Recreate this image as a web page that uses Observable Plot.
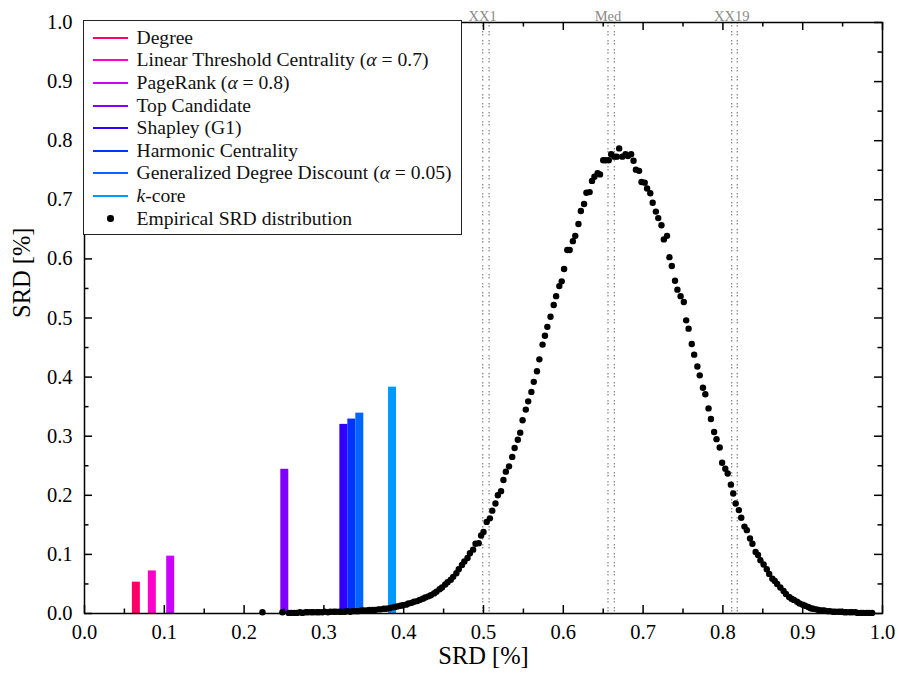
<!DOCTYPE html>
<html>
<head>
<meta charset="utf-8">
<script src="https://cdn.jsdelivr.net/npm/d3@7"></script>
<script src="https://cdn.jsdelivr.net/npm/@observablehq/plot@0.6"></script>
<style>
  html, body { margin: 0; padding: 0; background: #fff; }
  #wrap { position: relative; width: 899px; height: 683px; }
  #chart svg { font-family: 'Liberation Serif', 'Times New Roman', serif; }
  #legend { position: absolute; left: 83px; top: 20px; width: 379px; height: 215px; border: 1.5px solid #222; background: #fff; box-sizing: border-box; font-family: 'Liberation Serif', 'Times New Roman', serif; font-size: 19.6px; color: #111; }
  #legend .row { position: absolute; left: 0; height: 22px; line-height: 22px; white-space: nowrap; }
</style>
</head>
<body>
<div id="wrap">
  <div id="chart"></div>
  <div id="legend"></div>
</div>
<script>
// ---- data ----
const methods = ["Degree", "Linear Threshold Centrality (α = 0.7)", "PageRank (α = 0.8)", "Top Candidate", "Shapley (G1)", "Harmonic Centrality", "Generalized Degree Discount (α = 0.05)", "k-core"];
const methodX = [0.065, 0.085, 0.108, 0.251, 0.325, 0.335, 0.345, 0.386];
const methodSRD = [0.053, 0.072, 0.097, 0.244, 0.320, 0.329, 0.339, 0.383];
const methodColors = ["#ff0066", "#ff00cc", "#cc00ff", "#7f00ff", "#3300ff", "#0033ff", "#0066ff", "#0099ff"];
const empiricalLabel = "Empirical SRD distribution";

const refLabels = ["XX1", "Med", "XX19"];
const refLines = [[0.499, 0.507], [0.656, 0.664], [0.811, 0.818]];

const xMajor = [0.0, 0.1, 0.2, 0.3, 0.4, 0.5, 0.6, 0.7, 0.8, 0.9, 1.0];
const xMinor = [0.05, 0.15, 0.25, 0.35, 0.45, 0.55, 0.65, 0.75, 0.85, 0.95];
const yMajor = [0.0, 0.1, 0.2, 0.3, 0.4, 0.5, 0.6, 0.7, 0.8, 0.9, 1.0];
const yMinor = [0.05, 0.15, 0.25, 0.35, 0.45, 0.55, 0.65, 0.75, 0.85, 0.95];

const srdPoints = [
  [0.223,0.002],[0.248,0.002],[0.256,0.001],[0.259,0.001],[0.263,0.001],[0.266,0.001],[0.270,0.002],[0.273,0.001],
  [0.277,0.002],[0.280,0.002],[0.284,0.002],[0.287,0.002],[0.291,0.002],[0.294,0.002],[0.298,0.002],[0.301,0.003],
  [0.305,0.002],[0.308,0.003],[0.312,0.003],[0.315,0.003],[0.319,0.003],[0.322,0.003],[0.326,0.003],[0.329,0.004],
  [0.333,0.003],[0.336,0.004],[0.340,0.004],[0.343,0.004],[0.347,0.005],[0.350,0.005],[0.354,0.005],[0.357,0.006],
  [0.361,0.006],[0.364,0.006],[0.368,0.007],[0.371,0.007],[0.375,0.008],[0.378,0.008],[0.382,0.009],[0.385,0.010],
  [0.389,0.011],[0.392,0.012],[0.396,0.013],[0.399,0.014],[0.403,0.015],[0.406,0.017],[0.410,0.018],[0.413,0.020],
  [0.417,0.021],[0.420,0.023],[0.424,0.025],[0.427,0.027],[0.431,0.029],[0.434,0.031],[0.438,0.034],[0.441,0.037],
  [0.445,0.041],[0.448,0.044],[0.452,0.049],[0.455,0.053],[0.459,0.057],[0.462,0.062],[0.466,0.068],[0.469,0.075],
  [0.473,0.082],[0.476,0.088],[0.480,0.094],[0.483,0.102],[0.487,0.108],[0.490,0.118],[0.494,0.119],[0.497,0.132],
  [0.500,0.138],[0.504,0.155],[0.508,0.161],[0.511,0.174],[0.515,0.186],[0.518,0.200],[0.522,0.207],[0.525,0.226],
  [0.528,0.240],[0.532,0.249],[0.536,0.265],[0.539,0.280],[0.543,0.294],[0.546,0.306],[0.549,0.327],[0.553,0.345],
  [0.556,0.359],[0.560,0.375],[0.563,0.392],[0.567,0.410],[0.570,0.430],[0.574,0.455],[0.577,0.470],[0.580,0.485],
  [0.584,0.502],[0.588,0.522],[0.591,0.537],[0.595,0.554],[0.598,0.562],[0.601,0.583],[0.605,0.615],[0.608,0.615],
  [0.612,0.630],[0.615,0.639],[0.619,0.659],[0.622,0.681],[0.626,0.693],[0.629,0.712],[0.633,0.713],[0.636,0.732],
  [0.639,0.739],[0.643,0.745],[0.646,0.743],[0.650,0.767],[0.653,0.767],[0.657,0.767],[0.660,0.777],[0.664,0.773],
  [0.667,0.773],[0.670,0.787],[0.674,0.773],[0.678,0.777],[0.681,0.774],[0.685,0.777],[0.688,0.766],[0.691,0.751],
  [0.695,0.749],[0.698,0.730],[0.702,0.729],[0.705,0.719],[0.709,0.711],[0.712,0.695],[0.716,0.680],[0.719,0.669],
  [0.723,0.657],[0.726,0.633],[0.730,0.639],[0.733,0.603],[0.736,0.588],[0.740,0.563],[0.743,0.548],[0.747,0.537],
  [0.751,0.527],[0.754,0.496],[0.757,0.482],[0.761,0.456],[0.764,0.438],[0.768,0.418],[0.771,0.403],[0.775,0.382],
  [0.778,0.371],[0.782,0.347],[0.785,0.329],[0.789,0.307],[0.792,0.295],[0.796,0.281],[0.799,0.255],[0.803,0.245],
  [0.806,0.237],[0.810,0.218],[0.813,0.203],[0.816,0.186],[0.820,0.175],[0.823,0.162],[0.827,0.147],[0.830,0.141],
  [0.834,0.127],[0.837,0.118],[0.841,0.104],[0.844,0.099],[0.847,0.090],[0.851,0.083],[0.855,0.075],[0.858,0.067],
  [0.862,0.059],[0.865,0.055],[0.868,0.050],[0.872,0.044],[0.876,0.038],[0.879,0.033],[0.883,0.028],[0.886,0.025],
  [0.889,0.023],[0.893,0.020],[0.896,0.017],[0.900,0.015],[0.903,0.013],[0.907,0.011],[0.910,0.009],[0.913,0.008],
  [0.917,0.007],[0.920,0.006],[0.924,0.005],[0.927,0.005],[0.931,0.004],[0.934,0.004],[0.938,0.003],[0.941,0.003],
  [0.945,0.003],[0.948,0.003],[0.952,0.002],[0.955,0.002],[0.959,0.002],[0.962,0.002],[0.966,0.002],[0.969,0.001],
  [0.973,0.001],[0.976,0.001],[0.980,0.001],[0.983,0.001],[0.987,0.001]
];

// ---- derived tables ----
const bars = methods.map((m, i) => ({name: m, x: methodX[i], srd: methodSRD[i], color: methodColors[i]}));
const refs = refLabels.map((l, i) => ({label: l, x: refLines[i][0]}));
const halfBar = 0.005;
const serif = "'Liberation Serif', 'Times New Roman', serif";

const chart = Plot.plot({
  width: 899,
  height: 683,
  marginLeft: 84,
  marginRight: 17,
  marginTop: 22,
  marginBottom: 70,
  x: {domain: [0, 1]},
  y: {domain: [0, 1]},
  color: {type: "identity"},
  style: {fontFamily: serif, fontSize: "20px", color: "black", background: "white"},
  marks: [
    Plot.rectY(bars, {x1: d => d.x - halfBar, x2: d => d.x + halfBar, y1: 0, y2: "srd", fill: "color"}),
    Plot.ruleX(refLines.flat(), {stroke: "#8a8a8a", strokeWidth: 1.3, strokeDasharray: "1.5,1.5,1.5,4.5"}),
    Plot.text(refs, {x: "x", frameAnchor: "top", dy: -12, text: "label", fill: "#8a8a8a", fontSize: 14.5, fontFamily: serif}),
    Plot.dot(srdPoints, {x: d => d[0], y: d => d[1], r: 3.2, fill: "black"}),
    // inward ticks, all four sides
    Plot.ruleX(xMajor, {y1: 0, y2: 0, insetBottom: 8, stroke: "black", strokeWidth: 1.5}),
    Plot.ruleX(xMinor, {y1: 0, y2: 0, insetBottom: 4.5, stroke: "black", strokeWidth: 1.5}),
    Plot.ruleX(xMajor, {y1: 1, y2: 1, insetTop: 8, stroke: "black", strokeWidth: 1.5}),
    Plot.ruleX(xMinor, {y1: 1, y2: 1, insetTop: 4.5, stroke: "black", strokeWidth: 1.5}),
    Plot.ruleY(yMajor, {x1: 0, x2: 0, insetLeft: 8, stroke: "black", strokeWidth: 1.5}),
    Plot.ruleY(yMinor, {x1: 0, x2: 0, insetLeft: 4.5, stroke: "black", strokeWidth: 1.5}),
    Plot.ruleY(yMajor, {x1: 1, x2: 1, insetRight: 8, stroke: "black", strokeWidth: 1.5}),
    Plot.ruleY(yMinor, {x1: 1, x2: 1, insetRight: 4.5, stroke: "black", strokeWidth: 1.5}),
    Plot.axisX(xMajor, {tickSize: 0, tickPadding: 11, tickFormat: d => d.toFixed(1), label: null, fontSize: 20.5, fontFamily: serif}),
    Plot.axisY(yMajor, {tickSize: 0, tickPadding: 12, tickFormat: d => d.toFixed(1), label: null, fontSize: 20.5, fontFamily: serif}),
    Plot.text(["SRD [%]"], {frameAnchor: "bottom", dy: 50, fontSize: 24.5, fontFamily: serif}),
    Plot.text(["SRD [%]"], {frameAnchor: "left", dx: -62, rotate: -90, fontSize: 24.5, fontFamily: serif}),
    Plot.frame({stroke: "black", strokeWidth: 1.5})
  ]
});
document.getElementById("chart").append(chart);

// ---- legend (inside the plot area, top-left) ----
function fmt(s) {
  return s.replace(/α/g, "<i>α</i>").replace(/^k-/, "<i>k</i>-");
}
const legend = document.getElementById("legend");
const entries = bars.map(b => ({label: b.name, color: b.color, kind: "line"}))
  .concat([{label: empiricalLabel, color: "black", kind: "dot"}]);
entries.forEach((e, i) => {
  const cy = 16.8 + i * 22.6; // relative to inner top edge
  const row = document.createElement("div");
  row.className = "row";
  row.style.top = (cy - 11) + "px";
  row.style.left = "52.5px";
  row.innerHTML = fmt(e.label);
  legend.appendChild(row);
  const sym = document.createElement("div");
  sym.style.position = "absolute";
  if (e.kind === "line") {
    sym.style.left = "8.5px";
    sym.style.width = "35px";
    sym.style.height = "2px";
    sym.style.top = (cy - 1) + "px";
    sym.style.background = e.color;
  } else {
    sym.style.left = (26.5 - 3.3) + "px";
    sym.style.width = "6.6px";
    sym.style.height = "6.6px";
    sym.style.borderRadius = "50%";
    sym.style.top = (cy - 3.3) + "px";
    sym.style.background = e.color;
  }
  legend.appendChild(sym);
});
</script>
</body>
</html>
